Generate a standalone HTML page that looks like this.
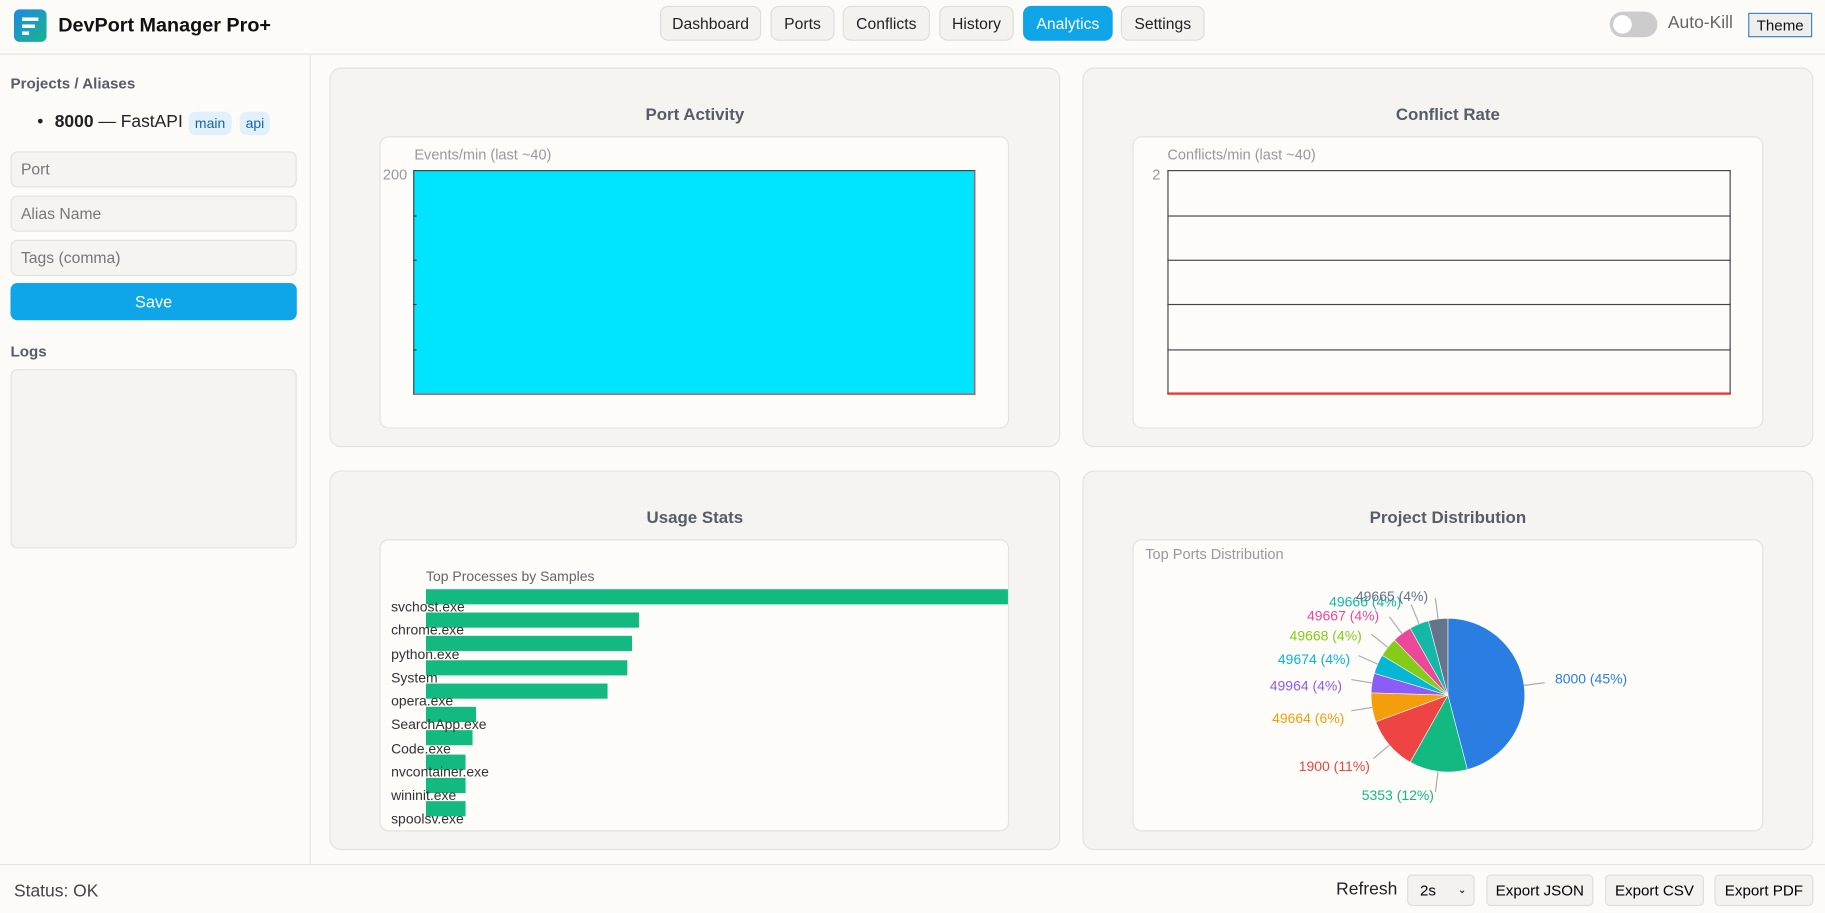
<!DOCTYPE html>
<html><head><meta charset="utf-8">
<style>
html,body{margin:0;padding:0;width:1825px;height:913px;overflow:hidden;background:#fcfbf8;font-family:"Liberation Sans",sans-serif}
#w{position:absolute;left:0;top:0;width:1568px;height:784px;transform:scale(1.1639,1.1645);transform-origin:0 0;background:#fcfbf8}
.a{position:absolute}
.btn{position:absolute;top:5px;height:30px;border:1px solid #ddd;border-radius:7px;background:#f3f2ef;font-size:13.5px;color:#222;text-align:center;line-height:30px;box-sizing:border-box}
.card{position:absolute;background:#f5f4f1;border:1px solid #e3e2de;border-radius:10px;box-sizing:border-box}
.inner{position:absolute;background:#fdfcf9;border:1px solid #e3e2de;border-radius:8px;box-sizing:border-box}
.ct{position:absolute;left:0;right:0;top:32px;text-align:center;font-weight:bold;font-size:14.5px;color:#555d69}
.inp{position:absolute;left:9px;width:246px;height:31px;border:1px solid #e2e1dd;border-radius:6px;background:#f5f4f1;box-sizing:border-box;font-size:13.5px;color:#777;padding-left:8px;line-height:29px}
.sm{font-size:12.5px;color:#999}
.lab{position:absolute;font-size:12px;color:#333}
.bar{position:absolute;left:366px;height:13px;background:#12b981}
</style></head><body><div id="w">
<!-- header -->
<div class="a" style="left:12px;top:8px;width:28px;height:28px;border-radius:5px;background:linear-gradient(135deg,#1e88e5,#1ab58a)"></div>
<div class="a" style="left:19px;top:15px;width:14px;height:3px;background:#fff"></div>
<div class="a" style="left:19px;top:21px;width:11px;height:3px;background:#fff"></div>
<div class="a" style="left:19px;top:27px;width:6px;height:3px;background:#fff"></div>
<div class="a" style="left:50px;top:12px;font-size:17px;font-weight:bold;color:#111">DevPort Manager Pro+</div>
<div class="btn" style="left:567px;width:87px">Dashboard</div>
<div class="btn" style="left:662px;width:55px">Ports</div>
<div class="btn" style="left:724px;width:75px">Conflicts</div>
<div class="btn" style="left:807px;width:64px">History</div>
<div class="btn" style="left:879px;width:77px;background:#0ea5e9;border-color:#0ea5e9;color:#fff">Analytics</div>
<div class="btn" style="left:963px;width:72px">Settings</div>
<div class="a" style="left:1383px;top:10px;width:41px;height:22px;border-radius:11px;background:#ccc"></div>
<div class="a" style="left:1386px;top:13px;width:16px;height:16px;border-radius:8px;background:#fff"></div>
<div class="a" style="left:1433px;top:11px;font-size:15px;color:#666">Auto-Kill</div>
<div class="a" style="left:1502px;top:11px;width:55px;height:21px;border:1px solid #3b82c4;background:#eee;box-sizing:border-box;font-size:13px;text-align:center;line-height:19px;color:#111">Theme</div>
<div class="a" style="left:0;top:46px;width:1568px;height:1px;background:#e4e3df"></div>
<!-- sidebar -->
<div class="a" style="left:266px;top:47px;width:1px;height:695px;background:#e4e3df"></div>
<div class="a" style="left:9px;top:64px;font-size:13px;font-weight:bold;color:#555d69">Projects / Aliases</div>
<div class="a" style="left:32px;top:96px;font-size:15px;color:#222">•</div>
<div class="a" style="left:47px;top:96px;font-size:15px;color:#222"><b>8000</b> — FastAPI</div>
<div class="a" style="left:162px;top:96px;width:37px;height:20px;border-radius:6px;background:#e1f0fb;font-size:12px;color:#1565a6;text-align:center;line-height:20px">main</div>
<div class="a" style="left:206px;top:96px;width:26px;height:20px;border-radius:6px;background:#e1f0fb;font-size:12px;color:#1565a6;text-align:center;line-height:20px">api</div>
<div class="inp" style="top:130px">Port</div>
<div class="inp" style="top:168px">Alias Name</div>
<div class="inp" style="top:206px">Tags (comma)</div>
<div class="a" style="left:9px;top:243px;width:246px;height:32px;border-radius:6px;background:#0ea5e9;color:#fff;font-size:14px;text-align:center;line-height:32px">Save</div>
<div class="a" style="left:9px;top:294px;font-size:13px;font-weight:bold;color:#555d69">Logs</div>
<div class="a" style="left:9px;top:317px;width:246px;height:154px;border:1px solid #e2e1dd;border-radius:6px;background:#f5f4f1;box-sizing:border-box"></div>
<!-- cards -->
<div class="card" style="left:283px;top:58px;width:628px;height:326px"><div class="ct">Port Activity</div></div>
<div class="card" style="left:930px;top:58px;width:628px;height:326px"><div class="ct">Conflict Rate</div></div>
<div class="card" style="left:283px;top:404px;width:628px;height:326px"><div class="ct">Usage Stats</div></div>
<div class="card" style="left:930px;top:404px;width:628px;height:326px"><div class="ct">Project Distribution</div></div>
<div class="inner" style="left:326px;top:117px;width:541px;height:251px"></div>
<div class="inner" style="left:973px;top:117px;width:542px;height:251px"></div>
<div class="inner" style="left:326px;top:463px;width:541px;height:251px"></div>
<div class="inner" style="left:973px;top:463px;width:542px;height:251px"></div>
<!-- port activity -->
<div class="a sm" style="left:356px;top:126px">Events/min (last ~40)</div>
<div class="a sm" style="left:329px;top:143px">200</div>
<div class="a" style="left:355px;top:146px;width:483px;height:193px;background:#00e5ff;border:1px solid #444;border-right-color:#e53935;border-bottom-color:#e53935;box-sizing:border-box"></div>
<div class="a" style="left:355px;top:185px;width:3px;height:1px;background:#333"></div>
<div class="a" style="left:355px;top:223px;width:3px;height:1px;background:#333"></div>
<div class="a" style="left:355px;top:261px;width:3px;height:1px;background:#333"></div>
<div class="a" style="left:355px;top:300px;width:3px;height:1px;background:#333"></div>
<!-- conflict -->
<div class="a sm" style="left:1003px;top:126px">Conflicts/min (last ~40)</div>
<div class="a sm" style="left:990px;top:143px">2</div>
<div class="a" style="left:1003px;top:146px;width:484px;height:193px;border:1px solid #444;border-bottom:2px solid #e53935;box-sizing:border-box"></div>
<div class="a" style="left:1003px;top:185px;width:484px;height:1px;background:#444"></div>
<div class="a" style="left:1003px;top:223px;width:484px;height:1px;background:#444"></div>
<div class="a" style="left:1003px;top:261px;width:484px;height:1px;background:#444"></div>
<div class="a" style="left:1003px;top:300px;width:484px;height:1px;background:#444"></div>
<!-- usage -->
<div class="a" style="left:366px;top:488px;font-size:12px;color:#666">Top Processes by Samples</div>
<div class="bar" style="top:506px;width:500px"></div>
<div class="bar" style="top:526px;width:183px"></div>
<div class="bar" style="top:546px;width:177px"></div>
<div class="bar" style="top:567px;width:173px"></div>
<div class="bar" style="top:587px;width:156px"></div>
<div class="bar" style="top:607px;width:43px"></div>
<div class="bar" style="top:627px;width:40px"></div>
<div class="bar" style="top:648px;width:34px"></div>
<div class="bar" style="top:668px;width:34px"></div>
<div class="bar" style="top:688px;width:34px"></div>
<div class="lab" style="left:336px;top:514px">svchost.exe</div>
<div class="lab" style="left:336px;top:534px">chrome.exe</div>
<div class="lab" style="left:336px;top:555px">python.exe</div>
<div class="lab" style="left:336px;top:575px">System</div>
<div class="lab" style="left:336px;top:595px">opera.exe</div>
<div class="lab" style="left:336px;top:615px">SearchApp.exe</div>
<div class="lab" style="left:336px;top:636px">Code.exe</div>
<div class="lab" style="left:336px;top:656px">nvcontainer.exe</div>
<div class="lab" style="left:336px;top:676px">wininit.exe</div>
<div class="lab" style="left:336px;top:696px">spoolsv.exe</div>
<!-- pie -->
<div class="a sm" style="left:984px;top:469px">Top Ports Distribution</div>
<svg class="a" style="left:0;top:0" width="1568" height="784" id="pie" font-family="Liberation Sans, sans-serif" font-size="12"></svg>
<!-- footer -->
<div class="a" style="left:0;top:742px;width:1568px;height:1px;background:#e4e3df"></div>
<div class="a" style="left:12px;top:757px;font-size:15px;color:#444">Status: OK</div>
<div class="a" style="left:1148px;top:755px;font-size:15px;color:#222">Refresh</div>
<div class="a" style="left:1209px;top:751px;width:58px;height:27px;border:1px solid #ddd;border-radius:4px;background:#f3f2ef;box-sizing:border-box;font-size:13px;line-height:25px;padding-left:10px">2s<span style="position:absolute;right:6px;font-size:9px">&#8964;</span></div>
<div class="a" style="left:1277px;top:751px;width:92px;height:27px;border:1px solid #ddd;border-radius:4px;background:#f3f2ef;box-sizing:border-box;font-size:13px;line-height:25px;text-align:center">Export JSON</div>
<div class="a" style="left:1379px;top:751px;width:85px;height:27px;border:1px solid #ddd;border-radius:4px;background:#f3f2ef;box-sizing:border-box;font-size:13px;line-height:25px;text-align:center">Export CSV</div>
<div class="a" style="left:1473px;top:751px;width:85px;height:27px;border:1px solid #ddd;border-radius:4px;background:#f3f2ef;box-sizing:border-box;font-size:13px;line-height:25px;text-align:center">Export PDF</div>
</div>
<script>
var d=[[45,"#2a7de1","8000 (45%)",1336,587,"start"],[12,"#12b981","5353 (12%)",1201,687,"middle"],[11,"#ef4444","1900 (11%)",1177,662,"end"],[6,"#f59e0b","49664 (6%)",1155,621,"end"],[4,"#8b5cf6","49964 (4%)",1153,593,"end"],[4,"#06b6d4","49674 (4%)",1160,570,"end"],[4,"#84cc16","49668 (4%)",1170,550,"end"],[4,"#ec4899","49667 (4%)",1185,533,"end"],[4,"#14b8a6","49666 (4%)",1204,521,"end"],[4,"#64748b","49665 (4%)",1227,516,"end"]];
var cx=1244,cy=597,r=66,a=0,s="",t=98;
d.forEach(function(e){var a2=a+e[0]/t*2*Math.PI,m=(a+a2)/2;
var x1=cx+r*Math.sin(a),y1=cy-r*Math.cos(a),x2=cx+r*Math.sin(a2),y2=cy-r*Math.cos(a2);
s+='<path d="M'+cx+','+cy+'L'+x1+','+y1+'A'+r+','+r+' 0 '+((a2-a)>Math.PI?1:0)+' 1 '+x2+','+y2+'Z" fill="'+e[1]+'" stroke="#fdfcf9" stroke-width="0.5"/>';
var lx=cx+(r)*Math.sin(m),ly=cy-(r)*Math.cos(m),ox=cx+(r+18)*Math.sin(m),oy=cy-(r+18)*Math.cos(m);
s+='<line x1="'+lx+'" y1="'+ly+'" x2="'+ox+'" y2="'+oy+'" stroke="#aaa"/>';
s+='<text x="'+e[3]+'" y="'+e[4]+'" fill="'+e[1]+'" text-anchor="'+e[5]+'">'+e[2]+'</text>';
a=a2;});
document.getElementById('pie').innerHTML=s;
</script>
</body></html>
